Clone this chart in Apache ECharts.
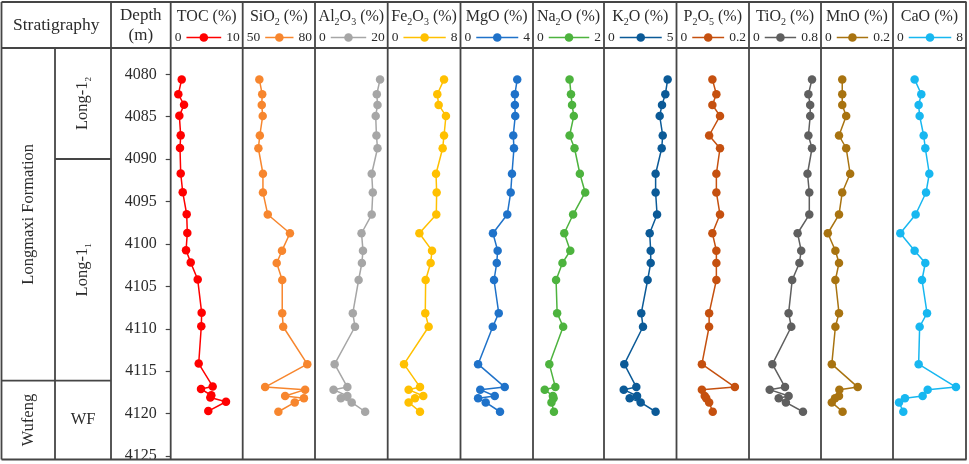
<!DOCTYPE html>
<html><head><meta charset="utf-8">
<script src="https://cdn.jsdelivr.net/npm/echarts@6/dist/echarts.min.js"></script>
<style>html,body{margin:0;padding:0;background:#fff}#c{width:969px;height:464px}</style>
</head><body><div id="c"></div>
<script>
// ---------- data ----------
const depths = [4080.6, 4082.35, 4083.6, 4084.9, 4087.2, 4088.7, 4091.7, 4093.9, 4096.5, 4098.7, 4100.75,
  4102.2, 4104.2, 4108.1, 4109.7, 4114.1, 4116.8, 4117.1, 4117.85, 4118.1, 4118.6, 4119.7];
const elements = ['TOC', 'SiO2', 'Al2O3', 'Fe2O3', 'MgO', 'Na2O', 'K2O', 'P2O5', 'TiO2', 'MnO', 'CaO'];
const axisMin = [0, 50, 0, 0, 0, 0, 0, 0, 0, 0, 0];
const axisMax = [10, 80, 20, 8, 4, 2, 5, 0.2, 0.8, 0.2, 8];
const depthTicks = [4080, 4085, 4090, 4095, 4100, 4105, 4110, 4115, 4120, 4125];
const TOC   = [1.53, 1.06, 1.85, 1.2, 1.39, 1.29, 1.39, 1.67, 2.22, 2.31, 2.13, 2.78, 3.75, 4.3, 4.25, 3.89, 5.83, 4.21, 5.64, 5.5, 7.68, 5.22];
const SiO2  = [56.9, 58.1, 57.9, 58.3, 57.1, 56.5, 58.4, 58.4, 60.4, 69.6, 66.3, 64.1, 66.4, 66.4, 66.8, 76.8, 59.3, 75.9, 67.6, 75.4, 71.6, 64.8];
const Al2O3 = [17.9, 17.0, 17.2, 16.7, 16.9, 17.2, 15.6, 15.9, 15.6, 12.8, 13.2, 12.9, 12.0, 10.4, 11.0, 5.4, 8.9, 5.1, 8.9, 7.1, 10.1, 13.8];
const Fe2O3 = [6.19, 5.45, 5.6, 6.4, 6.19, 6.04, 5.31, 5.38, 5.34, 3.48, 4.87, 4.72, 4.17, 4.13, 4.5, 1.79, 3.55, 2.3, 3.91, 3.0, 2.3, 3.55];
const MgO   = [3.13, 3.0, 3.0, 3.02, 2.91, 2.95, 2.84, 2.77, 2.58, 1.79, 2.05, 2.0, 1.85, 2.11, 1.78, 0.97, 2.44, 1.09, 1.89, 0.97, 1.39, 2.18];
const Na2O  = [1.03, 1.07, 1.1, 1.15, 1.03, 1.17, 1.32, 1.47, 1.13, 0.88, 1.05, 0.83, 0.65, 0.68, 0.85, 0.46, 0.63, 0.33, 0.56, 0.58, 0.52, 0.59];
const K2O   = [4.39, 4.23, 4.0, 3.84, 4.05, 3.98, 3.56, 3.56, 3.66, 3.15, 3.22, 3.22, 3.01, 2.57, 2.69, 1.4, 2.23, 1.36, 2.28, 1.77, 2.53, 3.56];
const P2O5  = [0.099, 0.11, 0.099, 0.12, 0.09, 0.12, 0.11, 0.11, 0.12, 0.099, 0.11, 0.11, 0.11, 0.09, 0.09, 0.07, 0.161, 0.07, 0.078, 0.082, 0.09, 0.1];
const TiO2  = [0.70, 0.66, 0.68, 0.68, 0.66, 0.70, 0.65, 0.67, 0.67, 0.54, 0.58, 0.56, 0.48, 0.44, 0.47, 0.26, 0.40, 0.23, 0.44, 0.33, 0.41, 0.60];
const MnO   = [0.059, 0.059, 0.059, 0.07, 0.05, 0.07, 0.081, 0.059, 0.05, 0.019, 0.04, 0.05, 0.04, 0.05, 0.04, 0.03, 0.102, 0.051, 0.05, 0.039, 0.03, 0.06];
const CaO   = [2.37, 3.1, 2.81, 2.92, 3.36, 3.54, 3.98, 3.62, 2.48, 0.8, 2.37, 3.54, 3.18, 3.73, 2.92, 2.81, 6.9, 3.8, 3.25, 1.31, 0.66, 1.13];
const values = [TOC, SiO2, Al2O3, Fe2O3, MgO, Na2O, K2O, P2O5, TiO2, MnO, CaO];
const formationNames = ['Longmaxi Formation', 'Wufeng'];
const memberNames = ['Long-1_2', 'Long-1_1', 'WF'];

// ---------- styles / layout ----------
const colors = ['#ff0000', '#f7862e', '#a6a6a6', '#ffc000', '#1f72c9', '#4db33e', '#0b5a97', '#c5500f', '#5f5f5f', '#a87310', '#17b7f0'];
const FONT = '"Liberation Serif", "Times New Roman", serif';
const TXT = '#2b2b2b';
const LINE = '#454545';
const colX = [170.7, 242.7, 315, 387.7, 460.5, 533, 604, 676.5, 749, 821, 893, 966];
const TOP = 2, HEAD = 48, BOT = 459.5, LEFT = 1.5, MID = 55, DEP = 111;
const gTop = 74.3, gBot = 456.8;

const chart = echarts.init(document.getElementById('c'), null, {renderer: 'canvas'});
const mctx = document.createElement('canvas').getContext('2d');
function tw(t, size) { mctx.font = size + 'px "Liberation Serif"'; return mctx.measureText(t).width; }
function subify(name) { return name.replace(/(\d+)/g, '{s|$1}'); }

const grids = [], xAxes = [], yAxes = [], series = [], graphics = [];
const sub = {s: {fontSize: 10, fontFamily: FONT, fill: TXT, verticalAlign: 'bottom', lineHeight: 10}};

elements.forEach((el, k) => {
  const L = colX[k], R = colX[k + 1];
  grids.push({left: L, top: gTop, width: R - L, height: gBot - gTop, containLabel: false});
  xAxes.push({type: 'value', gridIndex: k, min: axisMin[k], max: axisMax[k], show: false});
  yAxes.push({
    type: 'value', gridIndex: k, inverse: true, min: depthTicks[0], max: depthTicks[depthTicks.length - 1], interval: 5,
    show: k === 0,
    axisLine: {show: false},
    axisTick: {show: true, length: 5, lineStyle: {color: LINE, width: 1.2}},
    axisLabel: {show: true, fontFamily: FONT, fontSize: 16, color: TXT, margin: 14, formatter: v => String(v)},
    splitLine: {show: false}
  });
  series.push({
    type: 'line', xAxisIndex: k, yAxisIndex: k, name: el,
    data: values[k].map((v, i) => [v, depths[i]]),
    symbol: 'circle', symbolSize: 8.5, showSymbol: true,
    lineStyle: {width: 1.5, color: colors[k]}, itemStyle: {color: colors[k]},
    clip: false, animation: false
  });
  // header title
  graphics.push({type: 'text', x: (L + R) / 2, y: 17, style: {
    text: subify(el) + ' (%)', fontFamily: FONT, fontSize: 16, fill: TXT, align: 'center', verticalAlign: 'middle',
    lineHeight: 20, rich: sub}});
  // header legend
  const lt = String(axisMin[k]), rt = String(axisMax[k]);
  const ly = 37.5;
  graphics.push({type: 'text', x: L + 4, y: ly, style: {text: lt, fontFamily: FONT, fontSize: 13.5, fill: TXT, align: 'left', verticalAlign: 'middle'}});
  graphics.push({type: 'text', x: R - 3, y: ly, style: {text: rt, fontFamily: FONT, fontSize: 13.5, fill: TXT, align: 'right', verticalAlign: 'middle'}});
  const x1 = L + 4 + tw(lt, 13.5) + 5, x2 = R - 3 - tw(rt, 13.5) - 5;
  graphics.push({type: 'line', shape: {x1: x1, y1: ly, x2: x2, y2: ly}, style: {stroke: colors[k], lineWidth: 1.5}});
  graphics.push({type: 'circle', shape: {cx: (x1 + x2) / 2, cy: ly, r: 4.3}, style: {fill: colors[k]}});
});

// table lines
function hl(x1, x2, y) { graphics.push({type: 'line', shape: {x1, y1: y, x2, y2: y}, style: {stroke: LINE, lineWidth: 1.8}, z: 100}); }
function vl(x, y1, y2) { graphics.push({type: 'line', shape: {x1: x, y1, x2: x, y2}, style: {stroke: LINE, lineWidth: 1.8}, z: 100}); }
hl(LEFT, 966.5, TOP); hl(LEFT, 966.5, HEAD); hl(LEFT, 966.5, BOT);
vl(LEFT, TOP, BOT); vl(DEP, TOP, BOT); vl(MID, HEAD, BOT);
colX.forEach(x => vl(x, TOP, BOT));
hl(MID, DEP, 159); hl(LEFT, DEP, 380.7);

// left headers
graphics.push({type: 'text', x: (LEFT + DEP) / 2, y: 25, style: {text: 'Stratigraphy', fontFamily: FONT, fontSize: 17.5, fill: TXT, align: 'center', verticalAlign: 'middle'}});
graphics.push({type: 'text', x: (DEP + colX[0]) / 2, y: 16, style: {text: 'Depth', fontFamily: FONT, fontSize: 17, fill: TXT, align: 'center', verticalAlign: 'middle'}});
graphics.push({type: 'text', x: (DEP + colX[0]) / 2, y: 36, style: {text: '(m)', fontFamily: FONT, fontSize: 17, fill: TXT, align: 'center', verticalAlign: 'middle'}});

function vtext(t, cx, cy, size) {
  graphics.push({type: 'text', x: cx, y: cy, rotation: Math.PI / 2, style: {
    text: t.replace(/_(\d)/g, '{s|$1}'), fontFamily: FONT, fontSize: size, fill: TXT, align: 'center', verticalAlign: 'middle',
    lineHeight: 20, rich: {s: {fontSize: 9, fontFamily: FONT, fill: TXT, verticalAlign: 'bottom', lineHeight: 10}}}});
}
vtext(formationNames[0], (LEFT + MID) / 2, (HEAD + 380.7) / 2, 16.5);
vtext(formationNames[1], (LEFT + MID) / 2, (380.7 + BOT) / 2, 16.5);
vtext(memberNames[0], (MID + DEP) / 2, (HEAD + 159) / 2, 16.5);
vtext(memberNames[1], (MID + DEP) / 2, (159 + 380.7) / 2, 16.5);
graphics.push({type: 'text', x: (MID + DEP) / 2, y: (380.7 + BOT) / 2, style: {text: memberNames[2], fontFamily: FONT, fontSize: 16.5, fill: TXT, align: 'center', verticalAlign: 'middle'}});

chart.setOption({
  backgroundColor: '#ffffff',
  animation: false,
  grid: grids, xAxis: xAxes, yAxis: yAxes, series: series,
  graphic: graphics
});
</script></body></html>
